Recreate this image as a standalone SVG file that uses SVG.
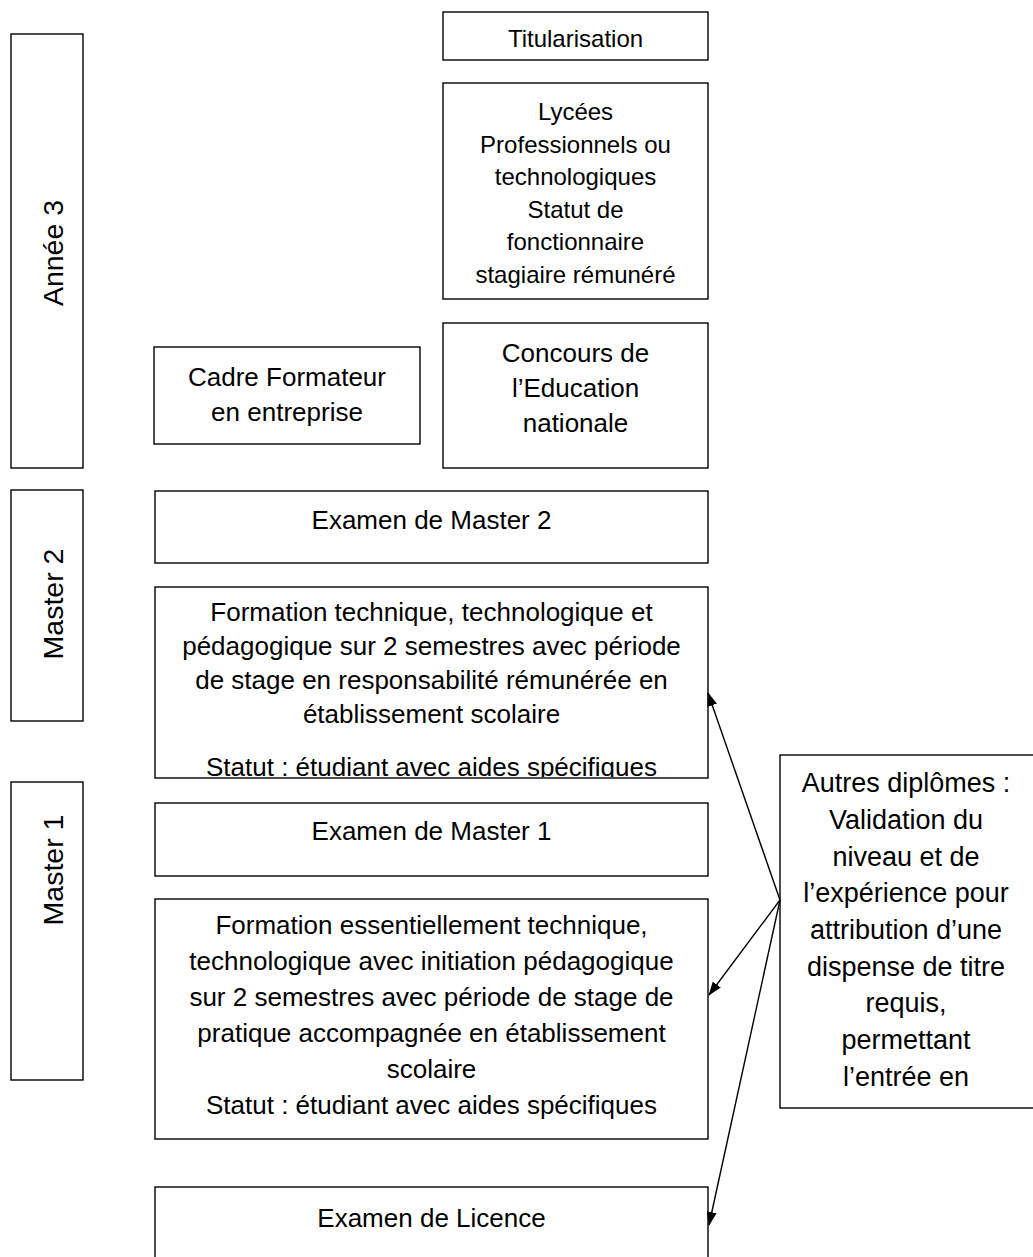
<svg xmlns="http://www.w3.org/2000/svg" width="1033" height="1257" viewBox="0 0 1033 1257">
<style>
  .box { fill: #ffffff; stroke: #000000; stroke-width: 1.4; }
  .t { font-family: "Liberation Sans", Arial, sans-serif; fill: #000000; text-anchor: middle; }
  .big { font-size: 26px; }
  .mid { font-size: 24px; }
  .lab { font-size: 28.5px; }
  .aut { font-size: 27px; }
  .conn { stroke: #000000; stroke-width: 1.4; fill: none; marker-end: url(#arrow); }
</style>
<defs>
  <marker id="arrow" viewBox="0 0 14 10" refX="13" refY="5" markerWidth="14" markerHeight="10" markerUnits="userSpaceOnUse" orient="auto">
    <path d="M0,0 L14,5 L0,10 Z" fill="#000000"/>
  </marker>
  <clipPath id="clipM2">
    <rect x="155" y="587" width="553" height="190"/>
  </clipPath>
</defs>
<rect x="0" y="0" width="1033" height="1257" fill="#ffffff"/>

<g id="annee3">
  <rect class="box" x="11" y="34" width="72" height="434"/>
  <text class="t lab" transform="translate(63,253) rotate(-90)">Année 3</text>
</g>
<g id="master2">
  <rect class="box" x="11" y="490" width="72" height="231"/>
  <text class="t lab" transform="translate(63,604) rotate(-90)">Master 2</text>
</g>
<g id="master1">
  <rect class="box" x="11" y="782" width="72" height="298"/>
  <text class="t lab" transform="translate(63,870) rotate(-90)">Master 1</text>
</g>

<g id="titularisation">
  <rect class="box" x="443" y="12" width="265" height="48"/>
  <text class="t mid" x="575.5" y="47">Titularisation</text>
</g>
<g id="lycees">
  <rect class="box" x="443" y="83" width="265" height="216"/>
  <text class="t mid" x="575.5" y="120">Lycées</text>
  <text class="t mid" x="575.5" y="152.5">Professionnels ou</text>
  <text class="t mid" x="575.5" y="185">technologiques</text>
  <text class="t mid" x="575.5" y="217.5">Statut de</text>
  <text class="t mid" x="575.5" y="250">fonctionnaire</text>
  <text class="t mid" x="575.5" y="282.5">stagiaire rémunéré</text>
</g>
<g id="concours">
  <rect class="box" x="443" y="323" width="265" height="145"/>
  <text class="t big" x="575.5" y="362">Concours de</text>
  <text class="t big" x="575.5" y="397">l’Education</text>
  <text class="t big" x="575.5" y="432">nationale</text>
</g>
<g id="cadre">
  <rect class="box" x="154" y="347" width="266" height="97"/>
  <text class="t big" x="287" y="386">Cadre Formateur</text>
  <text class="t big" x="287" y="421">en entreprise</text>
</g>

<g id="examen-m2">
  <rect class="box" x="155" y="491" width="553" height="72"/>
  <text class="t big" x="431.5" y="529">Examen de Master 2</text>
</g>
<g id="formation-m2">
  <rect class="box" x="155" y="587" width="553" height="191"/>
  <g clip-path="url(#clipM2)">
    <text class="t big" x="431.5" y="621">Formation technique, technologique et</text>
    <text class="t big" x="431.5" y="655">pédagogique sur 2 semestres avec période</text>
    <text class="t big" x="431.5" y="689">de stage en responsabilité rémunérée en</text>
    <text class="t big" x="431.5" y="723">établissement scolaire</text>
    <text class="t big" x="431.5" y="776">Statut : étudiant avec aides spécifiques</text>
  </g>
</g>
<g id="examen-m1">
  <rect class="box" x="155" y="803" width="553" height="73"/>
  <text class="t big" x="431.5" y="840">Examen de Master 1</text>
</g>
<g id="formation-m1">
  <rect class="box" x="155" y="899" width="553" height="240"/>
  <text class="t big" x="431.5" y="934">Formation essentiellement technique,</text>
  <text class="t big" x="431.5" y="970">technologique avec initiation pédagogique</text>
  <text class="t big" x="431.5" y="1006">sur 2 semestres avec période de stage de</text>
  <text class="t big" x="431.5" y="1042">pratique accompagnée en établissement</text>
  <text class="t big" x="431.5" y="1078">scolaire</text>
  <text class="t big" x="431.5" y="1114">Statut : étudiant avec aides spécifiques</text>
</g>
<g id="examen-licence">
  <rect class="box" x="155" y="1187" width="553" height="90"/>
  <text class="t big" x="431.5" y="1227">Examen de Licence</text>
</g>

<g id="autres">
  <rect class="box" x="780" y="755" width="270" height="353"/>
  <text class="t aut" x="906" y="792">Autres diplômes :</text>
  <text class="t aut" x="906" y="829">Validation du</text>
  <text class="t aut" x="906" y="866">niveau et de</text>
  <text class="t aut" x="906" y="902">l’expérience pour</text>
  <text class="t aut" x="906" y="939">attribution d’une</text>
  <text class="t aut" x="906" y="976">dispense de titre</text>
  <text class="t aut" x="906" y="1012">requis,</text>
  <text class="t aut" x="906" y="1049">permettant</text>
  <text class="t aut" x="906" y="1086">l’entrée en</text>
</g>

<g id="connectors">
  <line class="conn" x1="780" y1="900" x2="708" y2="693"/>
  <line class="conn" x1="780" y1="900" x2="709" y2="995"/>
  <line class="conn" x1="780" y1="900" x2="709" y2="1225"/>
</g>
</svg>
